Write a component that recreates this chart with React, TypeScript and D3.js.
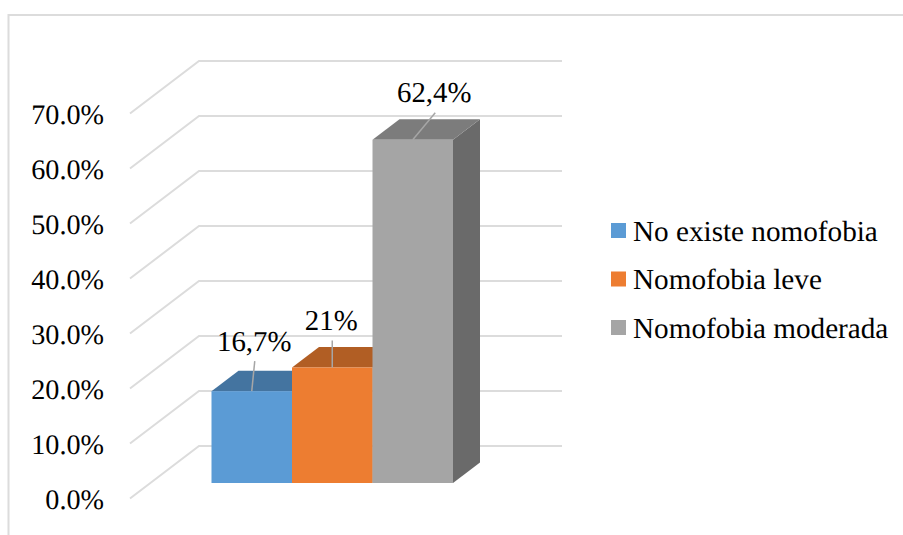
import { useEffect, useRef } from "react";
import * as d3 from "d3";

const categories = ["No existe nomofobia", "Nomofobia leve", "Nomofobia moderada"];
const values = [16.7, 21, 62.4];
const valueLabels = ["16,7%", "21%", "62,4%"];
const yTicks = [0, 10, 20, 30, 40, 50, 60, 70];
const frontColors = ["#5B9BD5", "#ED7D31", "#A5A5A5"];
const topColors = ["#4474A0", "#B15E24", "#7C7C7C"];
const sideColors = ["#3E6A92", "#A05520", "#6A6A6A"];

const FONT = "'Liberation Serif', 'Times New Roman', serif";

export default function App() {
  const svgRef = useRef<SVGSVGElement>(null);

  useEffect(() => {
    if (!svgRef.current) return;
    const svg = d3.select(svgRef.current);
    svg.selectAll("*").remove();

    // front plane of the 3D box
    const y = d3.scaleLinear().domain([0, 70]).range([483, 98]);
    const x = d3.scaleBand<string>().domain(categories).range([211.5, 453]);
    // offsets of the 3D depth
    const barDx = 27;
    const barDy = -20.5;
    const wallLeft = 199;
    const wallRight = 562;
    const wallDy = -37;
    const floorLeft = 130;
    const floorDy = 15.5;

    // frame
    svg.append("path")
      .attr("d", "M8.5,535V15H903")
      .attr("fill", "none")
      .attr("stroke", "#DCDCDC")
      .attr("stroke-width", 2);

    // gridlines
    yTicks.forEach((t) => {
      const wy = y(t) + wallDy;
      svg.append("polyline")
        .attr("points", `${floorLeft},${y(t) + floorDy} ${wallLeft},${wy} ${wallRight},${wy}`)
        .attr("fill", "none")
        .attr("stroke", "#DCDCDC")
        .attr("stroke-width", 2);
      svg.append("text")
        .attr("x", 104)
        .attr("y", y(t) + 26)
        .attr("text-anchor", "end")
        .attr("font-family", FONT)
        .attr("font-size", 28.2)
        .attr("fill", "#000")
        .text(`${t.toFixed(1)}%`);
    });

    // bars, drawn left to right so the later ones cover earlier sides
    categories.forEach((c, i) => {
      const x0 = x(c)!;
      const x1 = x0 + x.bandwidth();
      const yTop = y(values[i]);
      const yBase = y(0);
      svg.append("polygon")
        .attr("points", `${x1},${yTop} ${x1 + barDx},${yTop + barDy} ${x1 + barDx},${yBase + barDy} ${x1},${yBase}`)
        .attr("fill", sideColors[i]);
      svg.append("polygon")
        .attr("points", `${x0},${yTop} ${x0 + barDx},${yTop + barDy} ${x1 + barDx},${yTop + barDy} ${x1},${yTop}`)
        .attr("fill", topColors[i]);
      svg.append("rect")
        .attr("x", x0)
        .attr("y", yTop)
        .attr("width", x.bandwidth())
        .attr("height", yBase - yTop)
        .attr("fill", frontColors[i]);
    });

    // data labels with leader lines
    const labelDx = [2.5, -1, 21.5];
    const labelDy = [-40, -37.5, -37.5];
    const leaderDx = [3, 0, 22.5];
    const leaderDy = [-30, -27, -27];
    categories.forEach((c, i) => {
      const cx = x(c)! + x.bandwidth() / 2;
      const yTop = y(values[i]);
      svg.append("line")
        .attr("x1", cx)
        .attr("y1", yTop)
        .attr("x2", cx + leaderDx[i])
        .attr("y2", yTop + leaderDy[i])
        .attr("stroke", "#A6A6A6")
        .attr("stroke-width", 1.5);
      svg.append("text")
        .attr("x", cx + labelDx[i])
        .attr("y", yTop + labelDy[i])
        .attr("text-anchor", "middle")
        .attr("font-family", FONT)
        .attr("font-size", 28.8)
        .attr("fill", "#000")
        .text(valueLabels[i]);
    });

    // legend
    const legendY = d3.scalePoint<string>().domain(categories).range([230.5, 327.5]);
    categories.forEach((c, i) => {
      const ly = legendY(c)!;
      svg.append("rect")
        .attr("x", 611)
        .attr("y", ly - 7.5)
        .attr("width", 15)
        .attr("height", 15)
        .attr("fill", frontColors[i]);
      svg.append("text")
        .attr("x", 633)
        .attr("y", ly + 10)
        .attr("font-family", FONT)
        .attr("font-size", 29.2)
        .attr("fill", "#000")
        .text(c);
    });
  }, []);

  return (
    <svg
      ref={svgRef}
      width={903}
      height={535}
      textRendering="geometricPrecision"
      style={{ position: "absolute", left: 0, top: 0, background: "#fff" }}
    />
  );
}
